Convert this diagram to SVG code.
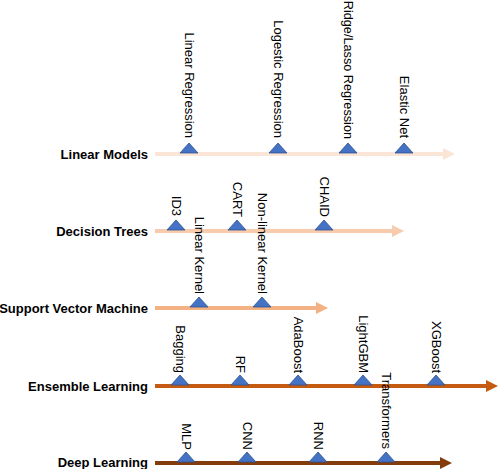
<svg xmlns="http://www.w3.org/2000/svg" xmlns:xlink="http://www.w3.org/1999/xlink" width="500" height="469" viewBox="0 0 500 469">
<style>
.lbl{font-family:"Liberation Sans",Arial,sans-serif;font-size:13px;font-weight:bold;fill:#000;text-anchor:end}
.itm{font-family:"Liberation Sans",Arial,sans-serif;font-size:13px;fill:#000;text-anchor:end}
.tri{fill:#4472C4;stroke:#2F528F;stroke-width:0.8}
.a1{fill:#FBE5D6}.a2{fill:#F8CBAD}.a3{fill:#F4B183}.a4{fill:#C55A11}.a5{fill:#843C0C}
</style>
<defs>
<polygon id="tri" class="tri" points="-9,0 9,0 0,-10"/>
</defs>
<rect width="500" height="469" fill="#fff"/>
<g id="connectors">
<path class="a1" d="M155 152 H443 V148 L455 154 L443 160 V156 H155 Z"/>
<path class="a2" d="M155 229 H392 V225 L404 231 L392 237 V233 H155 Z"/>
<path class="a3" d="M155 306 H316 V302 L328 308 L316 314 V310 H155 Z"/>
<path class="a4" d="M155 384 H486 V380 L498 386 L486 392 V388 H155 Z"/>
<path class="a5" d="M155 461 H440 V457 L452 463 L440 469 V465 H155 Z"/>
</g>
<g id="linear-models">
<text class="lbl" x="148" y="158.5">Linear Models</text>
<use xlink:href="#tri" x="189" y="153"/>
<use xlink:href="#tri" x="278" y="153"/>
<use xlink:href="#tri" x="348" y="153"/>
<use xlink:href="#tri" x="404" y="153"/>
<text class="itm" transform="translate(185 138) rotate(90)">Linear Regression</text>
<text class="itm" transform="translate(274 138) rotate(90)">Logestic Regression</text>
<text class="itm" transform="translate(344 139) rotate(90)" style="font-size:12.7px">Ridge/Lasso Regression</text>
<text class="itm" transform="translate(400 138) rotate(90)">Elastic Net</text>
</g>
<g id="decision-trees">
<text class="lbl" x="148" y="235.5">Decision Trees</text>
<use xlink:href="#tri" x="176" y="230"/>
<use xlink:href="#tri" x="237" y="230"/>
<use xlink:href="#tri" x="324" y="230"/>
<text class="itm" transform="translate(172 216) rotate(90)">ID3</text>
<text class="itm" transform="translate(233 217) rotate(90)">CART</text>
<text class="itm" transform="translate(320 217) rotate(90)">CHAID</text>
</g>
<g id="support-vector-machine">
<text class="lbl" x="148" y="312.5">Support Vector Machine</text>
<use xlink:href="#tri" x="199" y="307"/>
<use xlink:href="#tri" x="262" y="307"/>
<text class="itm" transform="translate(195 294) rotate(90)">Linear Kernel</text>
<text class="itm" transform="translate(258 294) rotate(90)">Non-linear Kernel</text>
</g>
<g id="ensemble-learning">
<text class="lbl" x="148" y="390.5">Ensemble Learning</text>
<use xlink:href="#tri" x="180" y="385"/>
<use xlink:href="#tri" x="240" y="385"/>
<use xlink:href="#tri" x="298" y="385"/>
<use xlink:href="#tri" x="363" y="385"/>
<use xlink:href="#tri" x="436" y="385"/>
<text class="itm" transform="translate(176 373) rotate(90)">Bagging</text>
<text class="itm" transform="translate(236 373) rotate(90)">RF</text>
<text class="itm" transform="translate(294 373) rotate(90)">AdaBoost</text>
<text class="itm" transform="translate(359 373) rotate(90)">LightGBM</text>
<text class="itm" transform="translate(432 373) rotate(90)">XGBoost</text>
</g>
<g id="deep-learning">
<text class="lbl" x="148" y="466.5">Deep Learning</text>
<use xlink:href="#tri" x="186" y="462"/>
<use xlink:href="#tri" x="247" y="462"/>
<use xlink:href="#tri" x="318" y="462"/>
<use xlink:href="#tri" x="386" y="462"/>
<text class="itm" transform="translate(182 450) rotate(90)">MLP</text>
<text class="itm" transform="translate(243 450) rotate(90)">CNN</text>
<text class="itm" transform="translate(314 450) rotate(90)">RNN</text>
<text class="itm" transform="translate(382 449) rotate(90)">Transformers</text>
</g>
</svg>
